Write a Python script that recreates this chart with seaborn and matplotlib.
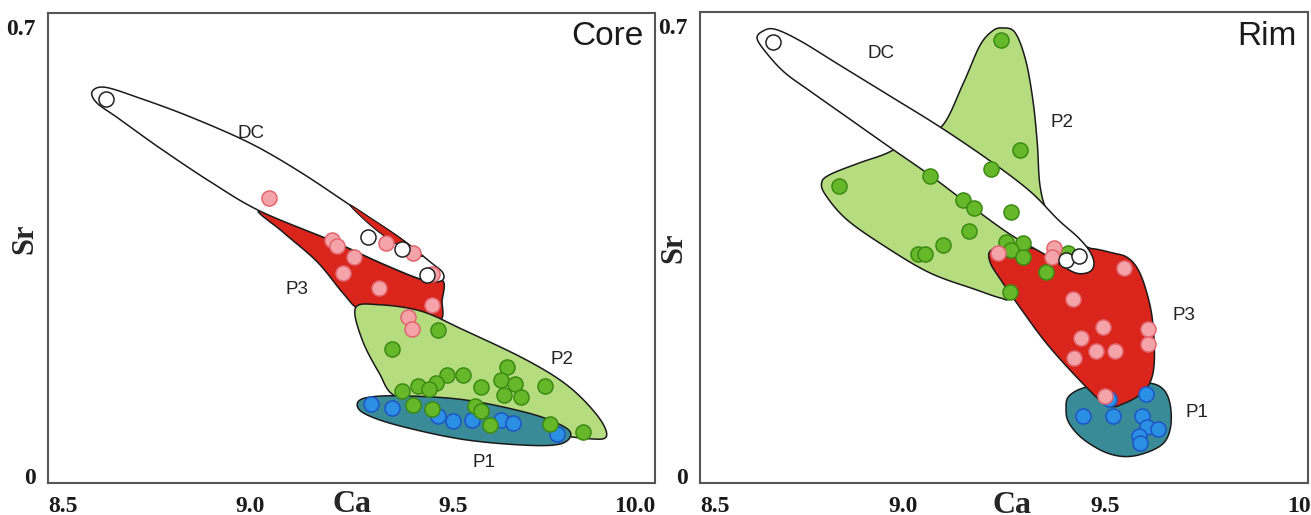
import numpy as np
import pandas as pd
import matplotlib
matplotlib.use("Agg")
import matplotlib.pyplot as plt
import seaborn as sns

# ---------------- data (Ca, Sr) ----------------
# Core panel points
core_dc_ca = [8.643, 9.290, 9.375, 9.437]
core_dc_sr = [0.587, 0.373, 0.354, 0.314]
core_p3_ca = [9.045, 9.203, 9.214, 9.335, 9.403, 9.257, 9.229, 9.318, 9.448, 9.389, 9.399, 9.450]
core_p3_sr = [0.434, 0.368, 0.359, 0.364, 0.347, 0.341, 0.316, 0.293, 0.267, 0.248, 0.229, 0.315]
core_p2_ca = [9.463, 9.351, 9.635, 9.526, 9.486, 9.460, 9.414, 9.441, 9.375, 9.620, 9.653,
              9.571, 9.628, 9.669, 9.727, 9.403, 9.448, 9.555, 9.571, 9.592, 9.740, 9.823]
core_p2_sr = [0.228, 0.198, 0.170, 0.158, 0.157, 0.145, 0.141, 0.135, 0.132, 0.150, 0.143,
              0.139, 0.127, 0.123, 0.141, 0.111, 0.105, 0.109, 0.101, 0.080, 0.081, 0.069]
core_p1_ca = [9.297, 9.349, 9.463, 9.500, 9.549, 9.620, 9.649, 9.757]
core_p1_sr = [0.113, 0.106, 0.094, 0.086, 0.087, 0.087, 0.083, 0.065]

# Rim panel points
rim_dc_ca = [8.679, 9.403, 9.436]
rim_dc_sr = [0.675, 0.336, 0.342]
rim_p2_ca = [9.243, 9.289, 9.217, 9.067, 8.843, 9.149, 9.177, 9.268, 9.164, 9.100, 9.038,
             9.055, 9.254, 9.298, 9.267, 9.298, 9.354, 9.265, 9.408]
rim_p2_sr = [0.678, 0.507, 0.478, 0.466, 0.451, 0.429, 0.417, 0.410, 0.381, 0.360, 0.346,
             0.345, 0.364, 0.363, 0.352, 0.340, 0.317, 0.286, 0.347]
rim_p3_ca = [9.236, 9.373, 9.369, 9.546, 9.419, 9.495, 9.605, 9.439, 9.605, 9.477, 9.524, 9.423, 9.498]
rim_p3_sr = [0.347, 0.354, 0.340, 0.323, 0.276, 0.231, 0.228, 0.215, 0.205, 0.194, 0.194, 0.184, 0.124]
rim_p1_ca = [9.508, 9.600, 9.446, 9.520, 9.590, 9.603, 9.629, 9.582, 9.585]
rim_p1_sr = [0.119, 0.127, 0.094, 0.093, 0.093, 0.076, 0.073, 0.062, 0.052]

# field outlines (Ca, Sr)
core_dc_field = [(8.609, 0.599), (8.641, 0.606), (8.727, 0.589), (8.851, 0.560), (8.999, 0.519),
                 (9.123, 0.474), (9.246, 0.4225), (9.370, 0.371), (9.444, 0.334), (9.476, 0.3165),
                 (9.471, 0.304), (9.427, 0.3056), (9.328, 0.3305), (9.204, 0.366), (9.024, 0.413),
                 (8.903, 0.458), (8.777, 0.511), (8.673, 0.558), (8.621, 0.5815)]
core_p3_field = [(9.024, 0.413), (9.204, 0.366), (9.328, 0.3305), (9.427, 0.3056), (9.476, 0.304),
                 (9.474, 0.274), (9.464, 0.240), (9.35, 0.235), (9.271, 0.258), (9.229, 0.285),
                 (9.165, 0.334), (9.081, 0.380)]
core_p3_sliver = [(9.246, 0.4225), (9.300, 0.401), (9.370, 0.371), (9.425, 0.343),
                  (9.395, 0.350), (9.345, 0.368), (9.295, 0.392)]
core_p2_field = [(9.260, 0.262), (9.318, 0.267), (9.422, 0.257), (9.526, 0.228), (9.682, 0.181),
                 (9.786, 0.140), (9.859, 0.093), (9.880, 0.062), (9.839, 0.058), (9.734, 0.067),
                 (9.630, 0.083), (9.474, 0.104), (9.359, 0.124), (9.318, 0.161), (9.276, 0.213)]
core_p1_field = [(9.264, 0.111), (9.286, 0.122), (9.370, 0.125), (9.526, 0.119), (9.682, 0.099),
                 (9.766, 0.080), (9.792, 0.065), (9.766, 0.050), (9.682, 0.048), (9.526, 0.057),
                 (9.370, 0.078), (9.286, 0.096)]

rim_dc_field = [(8.641, 0.680), (8.655, 0.692), (8.685, 0.695), (8.747, 0.677), (8.845, 0.639),
                (8.969, 0.591), (9.092, 0.543), (9.216, 0.490), (9.314, 0.443), (9.383, 0.399),
                (9.433, 0.371), (9.462, 0.349), (9.472, 0.3305), (9.462, 0.318), (9.433, 0.315),
                (9.401, 0.324), (9.351, 0.3445), (9.265, 0.376), (9.166, 0.421), (9.067, 0.468),
                (8.969, 0.511), (8.870, 0.555), (8.771, 0.599), (8.710, 0.627), (8.668, 0.655)]
rim_p2_field = [(8.800, 0.456), (8.821, 0.469), (8.893, 0.487), (8.964, 0.503), (9.036, 0.529),
                (9.098, 0.545), (9.149, 0.610), (9.190, 0.669), (9.221, 0.692), (9.246, 0.697),
                (9.277, 0.690), (9.303, 0.648), (9.321, 0.586), (9.332, 0.519), (9.339, 0.451),
                (9.359, 0.410), (9.405, 0.384), (9.446, 0.360), (9.457, 0.347), (9.323, 0.311),
                (9.267, 0.277), (9.241, 0.277), (9.180, 0.290), (9.067, 0.316), (8.954, 0.358),
                (8.862, 0.399), (8.811, 0.436)]
rim_p3_field = [(9.216, 0.350), (9.252, 0.357), (9.323, 0.354), (9.385, 0.347), (9.457, 0.354),
                (9.518, 0.347), (9.554, 0.340), (9.580, 0.322), (9.600, 0.290), (9.616, 0.244),
                (9.621, 0.181), (9.610, 0.145), (9.580, 0.124), (9.539, 0.111), (9.518, 0.108),
                (9.493, 0.114), (9.426, 0.156), (9.354, 0.207), (9.293, 0.259), (9.241, 0.306),
                (9.216, 0.332)]
rim_p1_field = [(9.410, 0.124), (9.446, 0.137), (9.508, 0.143), (9.600, 0.145), (9.641, 0.136),
                (9.660, 0.111), (9.660, 0.073), (9.636, 0.047), (9.569, 0.031), (9.508, 0.035),
                (9.446, 0.057), (9.410, 0.083), (9.403, 0.106)]

# field labels
core_labels = {"DC": (9.002, 0.534), "P3": (9.115, 0.290), "P2": (9.771, 0.181), "P1": (9.578, 0.021)}
rim_labels = {"DC": (8.946, 0.658), "P2": (9.393, 0.550), "P3": (9.694, 0.249), "P1": (9.725, 0.099)}

x_ticks = [8.5, 9.0, 9.5, 10.0]
x_ticklabels = ["8.5", "9.0", "9.5", "10.0"]
y_ticks = [0, 0.7]
y_ticklabels = ["0", "0.7"]

# ---------------- styling ----------------
fill_col = {"DC": "white", "P3": "#d9251b", "P2": "#b6dc80", "P1": "#3a8b98"}
pt_face = {"DC": "white", "P3": "#f4a3a9", "P2": "#66b82a", "P1": "#2b90e4"}
pt_edge = {"DC": "#222222", "P3": "#e2656e", "P2": "#3b8a12", "P1": "#1d55c6"}

sns.set_style("white")
plt.rcParams["font.family"] = ["Liberation Sans", "DejaVu Sans"]


def smooth(poly, n=20):
    # closed Catmull-Rom through the outline vertices
    p = np.array(poly)
    m = len(p)
    out = []
    t = np.linspace(0, 1, n, endpoint=False)[:, None]
    for i in range(m):
        p0, p1, p2, p3 = p[i - 1], p[i], p[(i + 1) % m], p[(i + 2) % m]
        seg = 0.5 * ((2 * p1) + (-p0 + p2) * t + (2 * p0 - 5 * p1 + 4 * p2 - p3) * t ** 2
                     + (-p0 + 3 * p1 - 3 * p2 + p3) * t ** 3)
        out.append(seg)
    return np.vstack(out)


def field(ax, poly, key, z, lw=1.1):
    s = smooth(poly)
    ax.fill(s[:, 0], s[:, 1], facecolor=fill_col[key], edgecolor="#1a1a1a", lw=lw, zorder=z)


def points(ax, ca, sr, key, z):
    df = pd.DataFrame({"Ca": ca, "Sr": sr})
    sns.scatterplot(data=df, x="Ca", y="Sr", ax=ax, s=118, color=pt_face[key],
                    edgecolor=pt_edge[key], linewidth=1.1, zorder=z, legend=False)


fig = plt.figure(figsize=(13.11, 5.15), dpi=100)
ax1 = fig.add_axes([48 / 1311, 32 / 515, 607 / 1311, 470 / 515])
ax2 = fig.add_axes([700 / 1311, 32 / 515, 608 / 1311, 471 / 515])

# Core
field(ax1, core_p3_field, "P3", 2)
field(ax1, core_dc_field, "DC", 3)
field(ax1, core_p3_sliver, "P3", 3.5, lw=0.8)
field(ax1, core_p2_field, "P2", 4)
field(ax1, core_p1_field, "P1", 4.5)
points(ax1, core_p3_ca, core_p3_sr, "P3", 10)
points(ax1, core_p1_ca, core_p1_sr, "P1", 11)
points(ax1, core_p2_ca, core_p2_sr, "P2", 12)
points(ax1, core_dc_ca, core_dc_sr, "DC", 13)

# Rim
field(ax2, rim_p2_field, "P2", 2)
field(ax2, rim_p1_field, "P1", 2.5)
field(ax2, rim_p3_field, "P3", 3)
field(ax2, rim_dc_field, "DC", 4)
points(ax2, rim_p1_ca, rim_p1_sr, "P1", 10)
points(ax2, rim_p2_ca, rim_p2_sr, "P2", 11)
points(ax2, rim_p3_ca, rim_p3_sr, "P3", 12)
points(ax2, rim_dc_ca, rim_dc_sr, "DC", 13)

for ax, labels, title, lx, ly in [(ax1, core_labels, "Core", -0.038, 0.52),
                                 (ax2, rim_labels, "Rim", -0.043, 0.50)]:
    for name, (x, y) in labels.items():
        ax.text(x, y, name, fontsize=13.5, ha="center", va="center", color="#222222", zorder=20)
    ax.text(0.981, 0.949, title, transform=ax.transAxes, fontsize=24, ha="right", va="center",
            color="#1a1a1a")
    ax.set_xlim(8.5, 10.0)
    ax.set_ylim(-0.0109, 0.7218)
    ax.set_xticks(x_ticks)
    ax.set_xticklabels(x_ticklabels)
    ax.set_yticks(y_ticks)
    ax.set_yticklabels(y_ticklabels)
    ax.tick_params(axis="x", direction="in", length=9, width=1.1, color="#333333", pad=9)
    ax.tick_params(axis="y", length=0, pad=9)
    for lab in ax.get_xticklabels() + ax.get_yticklabels():
        lab.set_fontfamily("Liberation Serif")
        lab.set_fontweight("bold")
        lab.set_fontsize(17)
        lab.set_color("#1a1a1a")
    ax.get_xticklabels()[0].set_ha("left")
    ax.set_xlabel("Ca", fontfamily="Liberation Serif", fontweight="bold", fontsize=23, va="center")
    ax.set_ylabel("Sr", fontfamily="Liberation Serif", fontweight="bold", fontsize=22, va="center")
    ax.yaxis.set_label_coords(lx, ly)
    for sp in ax.spines.values():
        sp.set_color("#555555")
        sp.set_linewidth(1.5)

ax1.get_xticklabels()[-1].set_ha("right")
ax1.xaxis.set_label_coords(0.50, -0.045)
ax2.xaxis.set_label_coords(0.513, -0.047)

fig.savefig("out.png", dpi=100)
